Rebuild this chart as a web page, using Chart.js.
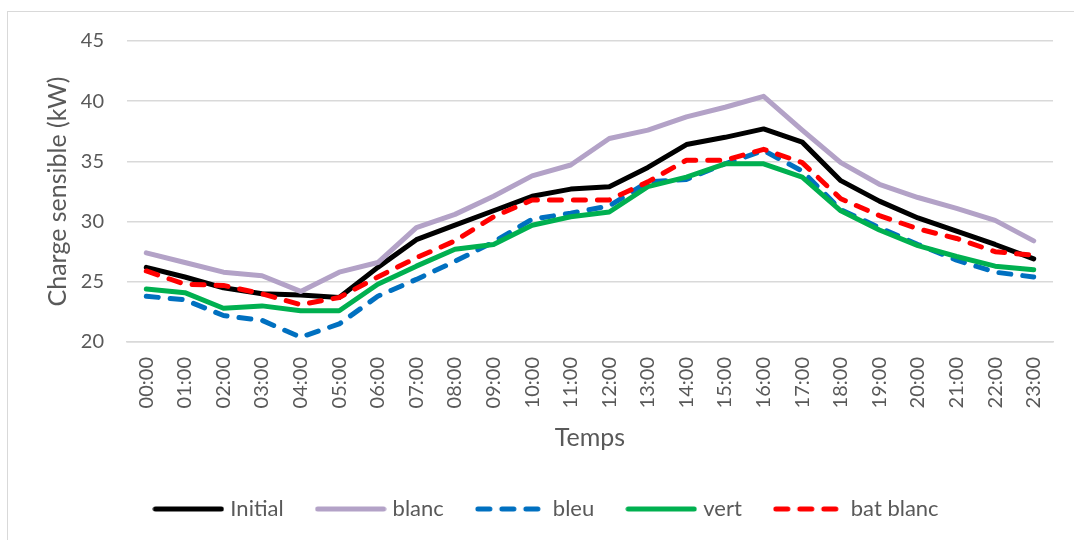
<!DOCTYPE html>
<html>
<head>
<meta charset="utf-8">
<script src="https://cdn.jsdelivr.net/npm/chart.js@4/dist/chart.umd.min.js"></script>
<style>
    html, body { margin: 0; padding: 0; background: #fff; }
    #wrap { position: relative; width: 1074px; height: 540px; overflow: hidden; }
    #frame { position: absolute; left: 7px; top: 11px; width: 1100px; height: 600px;
             border-left: 1.5px solid #d9d9d9; border-top: 1.5px solid #d9d9d9; }
    #chart { position: absolute; left: 0; top: 0; }
</style>
</head>
<body>
<div id="wrap">
    <div id="frame"></div>
    <canvas id="chart" width="1074" height="540"></canvas>
</div>
<script>
const hours = ['00:00', '01:00', '02:00', '03:00', '04:00', '05:00', '06:00', '07:00', '08:00', '09:00', '10:00', '11:00',
               '12:00', '13:00', '14:00', '15:00', '16:00', '17:00', '18:00', '19:00', '20:00', '21:00', '22:00', '23:00'];

const initial = [26.2, 25.4, 24.5, 24.0, 23.9, 23.7, 26.2, 28.5, 29.7, 30.9, 32.1, 32.7,
                 32.9, 34.5, 36.4, 37.0, 37.7, 36.6, 33.4, 31.7, 30.3, 29.2, 28.1, 26.9];
const blanc = [27.4, 26.6, 25.8, 25.5, 24.2, 25.8, 26.6, 29.5, 30.6, 32.1, 33.8, 34.7,
               36.9, 37.6, 38.7, 39.5, 40.4, 37.6, 34.9, 33.1, 32.0, 31.1, 30.1, 28.4];
const bleu = [23.8, 23.5, 22.2, 21.8, 20.4, 21.5, 23.8, 25.2, 26.7, 28.3, 30.2, 30.7,
              31.3, 33.3, 33.5, 34.8, 35.9, 34.2, 31.0, 29.5, 28.1, 26.8, 25.8, 25.4];
const vert = [24.4, 24.1, 22.8, 23.0, 22.6, 22.6, 24.8, 26.3, 27.7, 28.1, 29.7, 30.4,
              30.8, 32.9, 33.7, 34.8, 34.8, 33.7, 30.9, 29.3, 28.0, 27.1, 26.3, 26.0];
const batBlanc = [25.9, 24.8, 24.7, 24.0, 23.1, 23.7, 25.4, 27.0, 28.4, 30.4, 31.8, 31.8,
                  31.8, 33.3, 35.1, 35.1, 36.0, 34.9, 31.9, 30.5, 29.4, 28.6, 27.5, 27.2];

const textColor = '#595959';
const gridColor = '#d9d9d9';
const fontFamily = 'Lato, "Open Sans", sans-serif';
const lineDash = [12, 12];

// small line sample used as legend symbol (so the gap to the text stays short)
function legendSwatch(color, dashed) {
    const c = document.createElement('canvas');
    c.width = 72;
    c.height = 8;
    const g = c.getContext('2d');
    g.strokeStyle = color;
    g.lineWidth = 5;
    g.lineCap = 'round';
    g.setLineDash(dashed ? lineDash : []);
    g.beginPath();
    g.moveTo(3, 4);
    g.lineTo(69, 4);
    g.stroke();
    return c;
}

// one line series, Excel-like: thick, round joins, optional dash
function series(label, data, color, dashed, order) {
    return {
        label: label,
        data: data,
        borderColor: color,
        backgroundColor: color,
        borderWidth: 5,
        borderDash: dashed ? lineDash : [],
        borderCapStyle: 'round',
        borderJoinStyle: 'round',
        pointRadius: 0,
        pointHoverRadius: 0,
        pointStyle: legendSwatch(color, dashed),
        tension: 0,
        fill: false,
        order: order
    };
}

const ctx = document.getElementById('chart').getContext('2d');

new Chart(ctx, {
    type: 'line',
    data: {
        labels: hours,
        datasets: [
            series('Initial', initial, '#000000', false, 4),
            series('blanc', blanc, '#b3a2c7', false, 3),
            series('bleu', bleu, '#0070c0', true, 2),
            series('vert', vert, '#00b050', false, 1),
            series('bat blanc', batBlanc, '#ff0000', true, 0)
        ]
    },
    options: {
        responsive: false,
        animation: false,
        layout: { padding: { left: 43, right: 21, top: 41, bottom: 10 } },
        scales: {
            x: {
                offset: true,
                grid: { display: false, drawTicks: false },
                border: { display: true, color: gridColor, width: 1.5 },
                ticks: {
                    color: textColor,
                    font: { family: fontFamily, size: 20 },
                    minRotation: 90,
                    maxRotation: 90,
                    autoSkip: false,
                    padding: 15
                },
                title: {
                    display: true,
                    text: 'Temps',
                    color: textColor,
                    font: { family: fontFamily, size: 25 },
                    padding: { top: 0, bottom: 9 }
                },
                // Chart.js reserves twice the tick padding; fix the band height instead
                afterFit: (scale) => {
                    scale.paddingLeft = 0;
                    scale.paddingRight = 0;
                    scale.height = 120;
                }
            },
            y: {
                min: 20,
                max: 45,
                ticks: {
                    stepSize: 5,
                    color: textColor,
                    font: { family: fontFamily, size: 20 },
                    padding: 23
                },
                grid: { color: gridColor, lineWidth: 1.5, drawTicks: false },
                border: { display: false },
                title: {
                    display: true,
                    text: 'Charge sensible (kW)',
                    color: textColor,
                    font: { family: fontFamily, size: 25 },
                    padding: { top: 0, bottom: 0 }
                },
                afterFit: (scale) => {
                    scale.width = 84;
                }
            }
        },
        plugins: {
            legend: {
                position: 'bottom',
                labels: {
                    color: textColor,
                    font: { family: fontFamily, size: 22 },
                    usePointStyle: true,
                    pointStyleWidth: 62,
                    padding: 36,
                    sort: (a, b) => a.datasetIndex - b.datasetIndex
                }
            },
            tooltip: { enabled: false }
        }
    }
});
</script>
</body>
</html>
